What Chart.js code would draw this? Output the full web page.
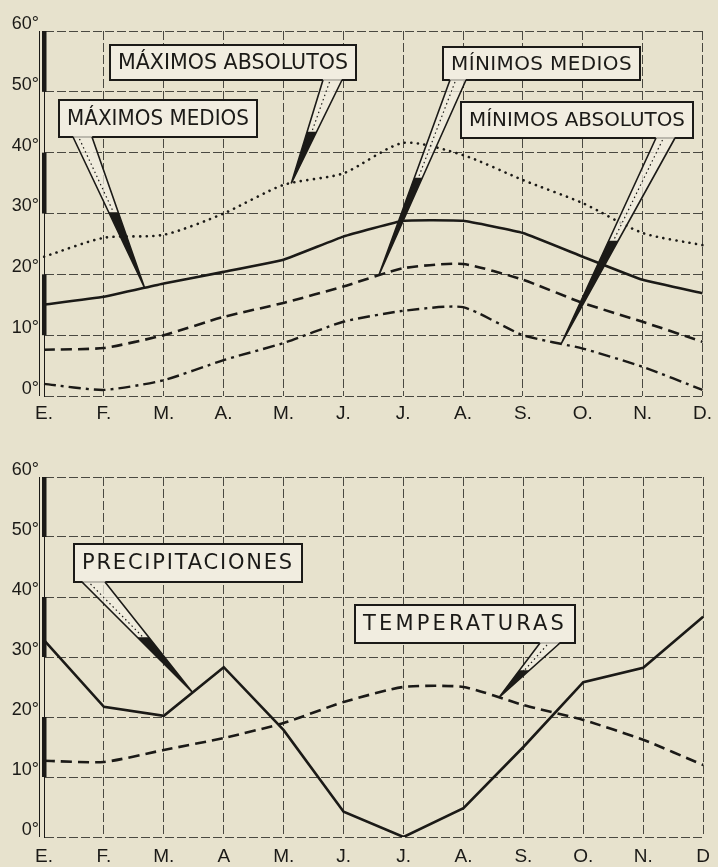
<!DOCTYPE html>
<html>
<head>
<meta charset="utf-8">
<script src="https://cdn.jsdelivr.net/npm/chart.js@4.4.0/dist/chart.umd.min.js"></script>
<style>
html, body { margin: 0; padding: 0; background: #e7e2cd; }
#hoja { position: relative; width: 718px; height: 867px; overflow: hidden; background: #e7e2cd; }
#hoja canvas { position: absolute; left: 0; }
</style>
</head>
<body>
<div id="hoja">
  <canvas id="graficoTemp" width="718" height="430" style="top:0px"></canvas>
  <canvas id="graficoPrec" width="718" height="437" style="top:430px"></canvas>
</div>
<script>
// meses (eje x) de los dos graficos
var mesesArriba = ['E.', 'F.', 'M.', 'A.', 'M.', 'J.', 'J.', 'A.', 'S.', 'O.', 'N.', 'D.'];
var mesesAbajo = ['E.', 'F.', 'M.', 'A', 'M.', 'J.', 'J.', 'A.', 'S.', 'O.', 'N.', 'D'];
var grados = [0, 10, 20, 30, 40, 50, 60];

// grafico de temperaturas extremas
var maximosAbsolutos = [22.9, 26, 26.5, 30, 34.7, 36.6, 41.6, 39.6, 35.5, 31.7, 26.8, 24.8];
var maximosMedios = [15, 16.3, 18.5, 20.4, 22.4, 26.2, 28.8, 28.8, 26.8, 22.9, 19.1, 16.9];
var minimosMedios = [7.6, 7.9, 10, 13, 15.3, 18, 21, 21.7, 19.1, 15.3, 12.2, 8.9];
var minimosAbsolutos = [2, 1, 2.6, 5.9, 8.7, 12.2, 14, 14.6, 10, 7.8, 4.8, 1];

// grafico de precipitaciones / temperaturas
var precipitaciones = [32.8, 21.7, 20.2, 28.3, 17.8, 4.2, 0, 4.8, 15, 25.8, 28.2, 36.7];
var temperaturas = [12.7, 12.5, 14.5, 16.5, 19, 22.5, 25, 25, 22, 19.5, 16.2, 12];

var TINTA = '#1b1a17';
var CARTEL = '#f1ede0';

// rotulos con flecha: caja en pixeles, la punta se calcula con las escalas
var rotulosArriba = [
    { texto: 'MÁXIMOS ABSOLUTOS', caja: [110, 45, 356, 80], base: [323, 342], serie: 0, punta: 4.13, alto: 21 },
    { texto: 'MÁXIMOS MEDIOS', caja: [59, 100, 257, 137], base: [73, 92], serie: 1, punta: 1.68, alto: 21 },
    { texto: 'MÍNIMOS MEDIOS', caja: [443, 47, 640, 80], base: [450, 466], serie: 2, punta: 5.59, alto: 20 },
    { texto: 'MÍNIMOS ABSOLUTOS', caja: [461, 102, 693, 138], base: [656, 675], serie: 3, punta: 8.64, alto: 20 }
];
var rotulosAbajo = [
    { texto: 'PRECIPITACIONES', caja: [74, 114, 302, 152], base: [82, 105], serie: 0, punta: 2.48, alto: 21 },
    { texto: 'TEMPERATURAS', caja: [355, 175, 575, 213], base: [540, 560], serie: 1, punta: 7.59, alto: 21 }
];

function valorEn(datos, i) {
    var a = Math.floor(i), b = Math.min(a + 1, datos.length - 1);
    return datos[a] + (datos[b] - datos[a]) * (i - a);
}

var ejeGrueso = {
    id: 'ejeGrueso',
    afterDatasetsDraw: function (chart) {
        var ctx = chart.ctx, y = chart.scales.y, x0 = chart.chartArea.left;
        ctx.save();
        ctx.fillStyle = TINTA;
        [[50, 60], [30, 40], [10, 20]].forEach(function (tramo) {
            var a = y.getPixelForValue(tramo[1]), b = y.getPixelForValue(tramo[0]);
            ctx.fillRect(x0 - 2, a, 4.5, b - a);
        });
        ctx.strokeStyle = TINTA;
        ctx.lineWidth = 1;
        ctx.beginPath();
        ctx.moveTo(x0 - 4.5, y.getPixelForValue(60));
        ctx.lineTo(x0 - 4.5, y.getPixelForValue(0));
        ctx.stroke();
        ctx.restore();
    }
};

var carteles = {
    id: 'carteles',
    afterDatasetsDraw: function (chart, args, opts) {
        var ctx = chart.ctx;
        (opts.rotulos || []).forEach(function (r) {
            var datos = chart.data.datasets[r.serie].data;
            var tx = chart.scales.x.getPixelForValue(r.punta);
            var ty = chart.scales.y.getPixelForValue(valorEn(datos, r.punta));
            var bx = r.caja[3];
            var l = { x: r.base[0], y: bx }, d = { x: r.base[1], y: bx };
            var f = 0.5;
            var lm = { x: l.x + (tx - l.x) * f, y: l.y + (ty - l.y) * f };
            var dm = { x: d.x + (tx - d.x) * f, y: d.y + (ty - d.y) * f };

            ctx.save();
            // caja
            ctx.fillStyle = CARTEL;
            ctx.fillRect(r.caja[0], r.caja[1], r.caja[2] - r.caja[0], r.caja[3] - r.caja[1]);
            ctx.strokeStyle = TINTA;
            ctx.lineWidth = 2;
            ctx.strokeRect(r.caja[0], r.caja[1], r.caja[2] - r.caja[0], r.caja[3] - r.caja[1]);

            // flecha
            ctx.beginPath();
            ctx.moveTo(l.x, l.y - 1);
            ctx.lineTo(lm.x, lm.y);
            ctx.lineTo(dm.x, dm.y);
            ctx.lineTo(d.x, d.y - 1);
            ctx.closePath();
            ctx.fillStyle = 'rgba(241,237,224,0.75)';
            ctx.fill();
            ctx.beginPath();
            ctx.moveTo(lm.x, lm.y);
            ctx.lineTo(tx, ty);
            ctx.lineTo(dm.x, dm.y);
            ctx.closePath();
            ctx.fillStyle = TINTA;
            ctx.fill();
            ctx.lineWidth = 1.6;
            ctx.beginPath();
            ctx.moveTo(l.x, l.y);
            ctx.lineTo(tx, ty);
            ctx.moveTo(d.x, d.y);
            ctx.lineTo(tx, ty);
            ctx.stroke();
            ctx.setLineDash([1.5, 3]);
            ctx.lineWidth = 1.2;
            ctx.beginPath();
            ctx.moveTo((l.x + d.x) / 2 - 3, l.y + 2);
            ctx.lineTo((lm.x + dm.x) / 2, (lm.y + dm.y) / 2);
            ctx.stroke();
            ctx.setLineDash([]);

            // texto espaciado hasta llenar la caja
            ctx.font = r.alto + 'px "DejaVu Sans"';
            ctx.fillStyle = TINTA;
            ctx.textBaseline = 'middle';
            var ancho = r.caja[2] - r.caja[0] - 16;
            var medido = ctx.measureText(r.texto).width;
            var extra = (ancho - medido) / r.texto.length;
            ctx.translate(r.caja[0] + 8, (r.caja[1] + r.caja[3]) / 2 + 1);
            if (extra > 0 && 'letterSpacing' in ctx) {
                ctx.letterSpacing = extra.toFixed(2) + 'px';
            } else {
                ctx.scale(ancho / medido, 1);
            }
            ctx.fillText(r.texto, 0, 0);
            ctx.restore();
        });
    }
};

function escalas(meses, altoEjeX, sepX) {
    return {
        x: {
            type: 'category',
            labels: meses,
            offset: false,
            grid: { color: 'rgba(35,35,30,0.8)', lineWidth: 1, drawTicks: false },
            border: { display: false, dash: [9, 3] },
            ticks: {
                color: TINTA, autoSkip: false, maxRotation: 0, padding: sepX,
                font: { family: '"Liberation Sans", Arial', size: 19 }
            },
            afterFit: function (s) { s.height = altoEjeX; }
        },
        y: {
            min: 0, max: 60,
            afterBuildTicks: function (s) {
                s.ticks = grados.map(function (g) { return { value: g }; });
            },
            grid: { color: 'rgba(35,35,30,0.8)', lineWidth: 1, drawTicks: false },
            border: { display: true, color: TINTA, width: 1, dash: [9, 3] },
            ticks: {
                color: TINTA, padding: 5, labelOffset: -7,
                font: { family: '"Liberation Sans", Arial', size: 18 },
                callback: function (v) { return v + '°'; }
            },
            afterFit: function (s) { s.width = 44; }
        }
    };
}

function linea(nombre, datos, trazo, grosor, curva) {
    return {
        label: nombre,
        data: datos,
        borderColor: TINTA,
        borderWidth: grosor,
        borderDash: trazo,
        borderCapStyle: trazo.length && trazo[0] < 1 ? 'round' : 'butt',
        pointRadius: 0,
        tension: curva,
        fill: false
    };
}

new Chart(document.getElementById('graficoTemp'), {
    type: 'line',
    data: {
        labels: mesesArriba,
        datasets: [
            linea('Máximos absolutos', maximosAbsolutos, [0.1, 6.5], 2.6, 0.25),
            linea('Máximos medios', maximosMedios, [], 2.6, 0.1),
            linea('Mínimos medios', minimosMedios, [11, 6], 2.6, 0.2),
            linea('Mínimos absolutos', minimosAbsolutos, [12, 5, 3, 5], 2.4, 0.2)
        ]
    },
    options: {
        responsive: false,
        animation: false,
        layout: { padding: { top: 31, right: 13, left: 0, bottom: 0 } },
        plugins: { legend: { display: false }, tooltip: { enabled: false }, carteles: { rotulos: rotulosArriba } },
        scales: escalas(mesesArriba, 34, 6)
    },
    plugins: [ejeGrueso, carteles]
});

new Chart(document.getElementById('graficoPrec'), {
    type: 'line',
    data: {
        labels: mesesAbajo,
        datasets: [
            linea('Precipitaciones', precipitaciones, [], 2.6, 0),
            linea('Temperaturas', temperaturas, [11, 6], 2.6, 0.2)
        ]
    },
    options: {
        responsive: false,
        animation: false,
        layout: { padding: { top: 47, right: 13, left: 0, bottom: 0 } },
        plugins: { legend: { display: false }, tooltip: { enabled: false }, carteles: { rotulos: rotulosAbajo } },
        scales: escalas(mesesAbajo, 30, 8)
    },
    plugins: [ejeGrueso, carteles]
});
</script>
</body>
</html>
